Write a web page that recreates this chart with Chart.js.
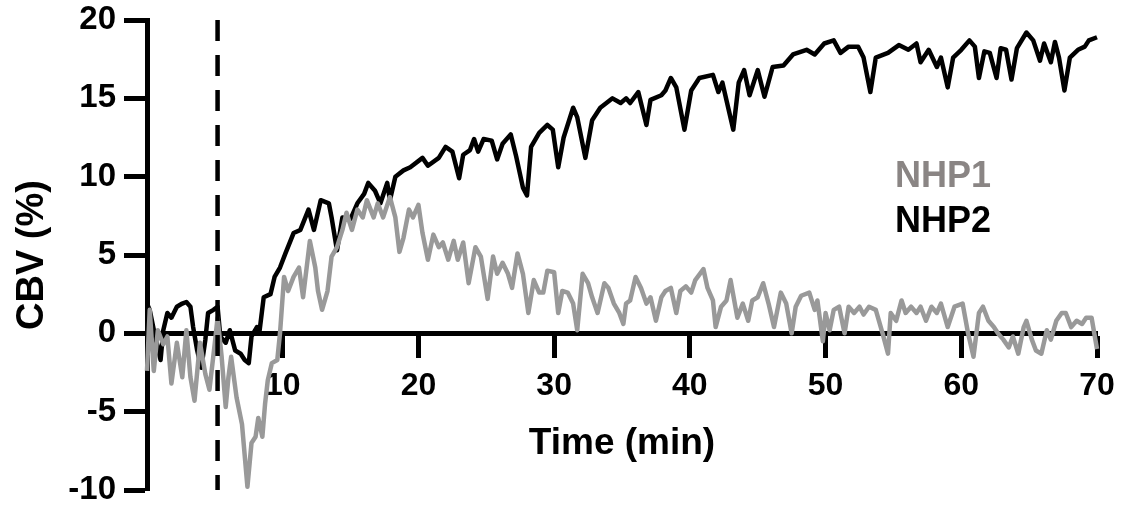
<!DOCTYPE html>
<html>
<head>
<meta charset="utf-8">
<script src="https://cdn.jsdelivr.net/npm/chart.js@4.4.1/dist/chart.umd.min.js"></script>
<style>
  html, body { margin: 0; padding: 0; background: #fff; }
  #wrap { width: 1123px; height: 510px; }
</style>
</head>
<body>
<div id="wrap"><canvas id="cbvChart" width="1123" height="510"></canvas></div>
<script>
// NHP2 (black) : time (min) / CBV (%)
const nhp2Time = [
  0, 0.2, 0.6, 1.0, 1.2, 1.5, 1.8, 2.2, 2.6, 2.9, 3.2, 3.4, 3.7, 4.0, 4.3, 4.5, 4.9, 5.2, 5.4, 5.8, 6.1, 6.5, 6.9, 7.2, 7.5, 7.7, 8.1, 8.3, 8.6, 9.1, 9.4, 9.8,
  10.2, 10.8, 11.3, 11.9, 12.3, 12.8, 13.4, 13.6, 14.0, 14.4, 15.0, 15.5, 16.0, 16.3, 16.8, 17.2, 17.7, 17.9, 18.3, 18.9, 19.4,
  20.3, 20.7, 21.5, 22.0, 22.5, 23.0, 23.3, 23.8, 24.1, 24.4, 24.8, 25.4, 25.8, 26.2, 26.8, 27.2, 27.7, 28.0, 28.3, 28.9, 29.5, 29.9,
  30.3, 30.7, 31.4, 31.7, 32.3, 32.8, 33.4, 34.3, 34.9, 35.3, 35.6, 36.2, 36.8, 37.1, 37.9, 38.2, 38.6, 39.0, 39.6,
  40.1, 40.7, 41.7, 42.1, 42.4, 43.2, 43.6, 44.0, 44.4, 45.0, 45.5, 46.1, 46.9, 47.6, 48.6, 49.2, 49.9,
  50.6, 51.1, 51.7, 52.4, 52.8, 53.3, 53.7, 54.6, 55.4, 56.1, 56.7, 57.0, 57.6, 58.2, 58.5, 59.0, 59.4,
  60.0, 60.6, 61.0, 61.3, 61.7, 62.1, 62.6, 62.9, 63.3, 63.7, 64.1, 64.8, 65.3, 65.8, 66.1, 66.6, 66.9, 67.2, 67.6, 68.0, 68.6, 69.1, 69.4, 70.0
];
const nhp2Cbv = [
  1.9, 1.5, -0.2, -1.7, 0.2, 1.3, 1.0, 1.7, 1.9, 2.0, 1.7, 0.4, -1.1, -2.2, -0.4, 1.3, 1.5, 1.7, -0.2, -0.6, 0.2, -1.1, -1.3, -1.7, -1.9, -0.2, 0.4, 0.2, 2.3, 2.5, 3.6, 4.2,
  5.1, 6.4, 6.6, 7.9, 6.6, 8.5, 8.3, 7.4, 5.3, 7.4, 7.3, 8.3, 8.9, 9.6, 9.1, 8.3, 9.6, 8.5, 10.0, 10.4, 10.6,
  11.2, 10.7, 11.2, 11.9, 11.6, 9.9, 11.4, 11.7, 12.4, 11.6, 12.4, 12.3, 11.1, 12.1, 12.7, 11.3, 9.3, 8.8, 11.9, 12.8, 13.3, 13.0,
  10.6, 12.5, 14.4, 13.8, 11.2, 13.6, 14.4, 15.0, 14.7, 15.0, 14.7, 15.4, 13.3, 14.9, 15.2, 15.5, 16.3, 15.7, 13.0,
  15.5, 16.3, 16.5, 15.4, 16.0, 13.0, 16.0, 16.8, 15.2, 16.8, 15.1, 17.0, 17.1, 17.8, 18.1, 17.8, 18.5,
  18.7, 17.9, 18.3, 18.3, 17.6, 15.4, 17.6, 17.9, 18.4, 18.1, 18.5, 17.3, 18.1, 17.0, 17.6, 15.7, 17.6,
  18.1, 18.7, 18.3, 16.3, 18.0, 17.9, 16.3, 18.2, 18.1, 16.2, 18.2, 19.2, 18.7, 17.4, 18.5, 17.3, 18.6, 17.6, 15.5, 17.6, 18.1, 18.3, 18.7, 18.9
];

// NHP1 (grey)
const nhp1Time = [
  0, 0.2, 0.5, 0.8, 1.2, 1.5, 1.8, 2.2, 2.6, 2.9, 3.2, 3.5, 3.9, 4.3, 4.6, 5.0, 5.2, 5.5, 5.8, 6.0, 6.2, 6.6, 7.0, 7.4, 7.7, 8.0, 8.2, 8.5, 8.7, 8.9, 9.2, 9.6, 9.8,
  10.1, 10.4, 10.8, 11.2, 11.5, 12.0, 12.4, 12.6, 12.9, 13.3, 13.6, 14.0, 14.4, 14.7, 15.1, 15.5, 15.9, 16.2, 16.7, 17.0, 17.4, 17.9, 18.3, 18.6, 18.9, 19.3, 19.6,
  20.0, 20.3, 20.7, 21.1, 21.5, 21.8, 22.2, 22.6, 22.9, 23.3, 23.7, 24.2, 24.6, 25.1, 25.5, 25.8, 26.2, 26.6, 26.9, 27.3, 27.7, 28.1, 28.5, 28.9, 29.2, 29.5,
  30.0, 30.3, 30.6, 31.0, 31.4, 31.7, 32.1, 32.5, 32.8, 33.2, 33.7, 34.0, 34.4, 34.8, 35.1, 35.3, 35.6, 36.0, 36.4, 36.8, 37.1, 37.5, 37.9, 38.2, 38.6, 39.0, 39.3, 39.7,
  40.1, 40.4, 41.0, 41.3, 41.7, 41.9, 42.3, 42.7, 43.0, 43.5, 43.9, 44.3, 44.6, 45.0, 45.4, 45.8, 46.2, 46.7, 47.1, 47.5, 47.8, 48.2, 48.8, 49.2, 49.4, 49.8,
  50.0, 50.3, 50.6, 51.0, 51.4, 51.7, 52.1, 52.5, 52.8, 53.2, 53.7, 54.2, 54.6, 54.8, 55.2, 55.6, 55.9, 56.3, 56.7, 57.0, 57.4, 57.8, 58.2, 58.5, 59.0, 59.5,
  60.1, 60.5, 60.9, 61.3, 61.6, 62.0, 62.4, 62.7, 63.1, 63.5, 63.8, 64.2, 64.6, 64.8, 65.2, 65.5, 65.9, 66.3, 66.6, 67.0, 67.4, 67.7, 68.1, 68.5, 68.9, 69.2, 69.6, 70.0
];
const nhp1Cbv = [
  -2.4, 1.5, -2.4, 0.2, -0.7, -0.2, -3.2, -0.6, -2.8, 0.2, -2.8, -4.3, -0.6, -2.6, -3.6, -0.6, 1.0, -1.5, -4.7, -2.8, -1.5, -4.1, -5.8, -9.8, -7.0, -6.6, -5.4, -6.6, -4.5, -3.0, -1.9, -1.7, 0.0,
  3.6, 2.7, 3.6, 4.2, 2.3, 5.9, 4.2, 2.7, 1.5, 2.7, 4.9, 5.5, 6.6, 7.7, 6.6, 7.9, 7.4, 8.5, 7.4, 8.3, 7.4, 8.7, 7.4, 5.2, 6.1, 7.9, 7.4,
  8.2, 6.4, 4.7, 6.3, 5.5, 5.8, 4.7, 5.9, 4.7, 5.8, 3.2, 5.5, 4.9, 2.2, 4.9, 3.8, 4.5, 3.8, 2.9, 5.1, 3.8, 1.3, 3.4, 2.6, 2.6, 4.0,
  3.9, 1.3, 2.7, 2.6, 1.9, 0.2, 3.8, 3.2, 2.3, 1.3, 3.2, 2.9, 1.9, 1.3, 0.6, 1.9, 2.1, 3.6, 2.9, 1.9, 2.3, 0.8, 2.3, 2.7, 2.9, 1.3, 2.7, 3.0,
  2.6, 3.4, 4.1, 2.9, 2.1, 0.4, 1.7, 2.1, 3.4, 1.0, 1.9, 0.8, 2.1, 2.3, 3.2, 1.9, 0.4, 2.6, 1.9, 0.0, 1.7, 2.4, 2.6, 1.5, 2.1, -0.5,
  1.3, 0.2, 1.5, 1.7, 0.0, 1.7, 1.3, 1.7, 1.2, 1.7, 1.5, 0.0, -1.3, 1.3, 0.8, 2.1, 1.3, 1.7, 1.3, 1.7, 0.8, 1.7, 1.3, 1.9, 0.4, 1.7,
  1.9, 0.0, -1.5, 1.3, 1.7, 0.8, 0.4, 0.0, -0.4, -0.9, -0.2, -1.3, 0.4, 0.8, -0.4, -1.1, -1.3, 0.2, -0.4, 0.8, 1.3, 1.3, 0.4, 0.8, 0.6, 1.0, 1.0, -1.0
];

// 투여 시점 (dashed line)
const injectionTime = 5.2;
const yRange = [20, -10];
const xTicks = [10, 20, 30, 40, 50, 60, 70];

const fontFamily = "'Liberation Sans', Arial, Helvetica, sans-serif";

const toPoints = (xs, ys) => xs.map((x, i) => ({ x: x, y: ys[i] }));

// NHP1 / NHP2 text labels inside the plot
const seriesLabels = {
  id: "seriesLabels",
  afterDraw(chart) {
    const ctx = chart.ctx;
    ctx.save();
    ctx.font = `bold 36px ${fontFamily}`;
    ctx.textBaseline = "middle";
    ctx.textAlign = "left";
    ctx.fillStyle = "#8a8584";
    ctx.fillText("NHP1", 895, 177);
    ctx.fillStyle = "#000000";
    ctx.fillText("NHP2", 895, 222);
    ctx.restore();
  },
};

const cbv = document.getElementById("cbvChart");
const cbvChart = new Chart(cbv, {
  type: "line",
  data: {
    datasets: [
      {
        label: "injection",
        data: yRange.map((y) => ({ x: injectionTime, y: y })),
        borderColor: "#000",
        borderWidth: 4.5,
        borderDash: [21, 14],
        pointRadius: 0,
      },
      {
        label: "NHP1",
        data: toPoints(nhp1Time, nhp1Cbv),
        borderColor: "#999999",
        borderWidth: 4.5,
        borderJoinStyle: "round",
        pointRadius: 0,
        tension: 0,
      },
      {
        label: "NHP2",
        data: toPoints(nhp2Time, nhp2Cbv),
        borderColor: "#000000",
        borderWidth: 4.5,
        borderJoinStyle: "round",
        pointRadius: 0,
        tension: 0,
      },
    ],
  },
  options: {
    responsive: false,
    animation: false,
    clip: false,
    layout: {
      padding: { top: 20, bottom: 20, left: 0, right: 26 },
    },
    plugins: {
      legend: { display: false },
      tooltip: { enabled: false },
    },
    scales: {
      x: {
        type: "linear",
        min: 0,
        max: 70,
        position: { y: 0 },
        afterBuildTicks: (scale) => {
          scale.ticks = [0].concat(xTicks).map((v) => ({ value: v }));
        },
        afterFit: (scale) => {
          scale.paddingLeft = 0;
          scale.paddingRight = 0;
        },
        ticks: {
          color: "#000",
          padding: 12,
          maxRotation: 0,
          autoSkip: false,
          font: { family: fontFamily, size: 32, weight: "bold" },
          callback: (v) => (v === 0 ? "" : v),
        },
        grid: {
          drawOnChartArea: false,
          color: "#000",
          tickLength: 22,
          tickWidth: 5,
        },
        border: { display: true, color: "#000", width: 5 },
        title: {
          display: true,
          text: "Time (min)",
          color: "#000",
          padding: { top: 4, bottom: 0 },
          font: { family: fontFamily, size: 37, weight: "bold" },
        },
      },
      y: {
        min: -10,
        max: 20,
        afterFit: (scale) => {
          scale.width = 147;
          scale.paddingTop = 0;
          scale.paddingBottom = 0;
        },
        ticks: {
          stepSize: 5,
          color: "#000",
          padding: 8,
          font: { family: fontFamily, size: 33, weight: "bold" },
        },
        grid: {
          drawOnChartArea: false,
          color: "#000",
          tickLength: 23,
          tickWidth: 5,
        },
        border: { display: true, color: "#000", width: 5 },
        title: {
          display: true,
          text: "CBV (%)",
          color: "#000",
          padding: { top: 10, bottom: 0 },
          font: { family: fontFamily, size: 38, weight: "bold" },
        },
      },
    },
  },
  plugins: [seriesLabels],
});
</script>
</body>
</html>
